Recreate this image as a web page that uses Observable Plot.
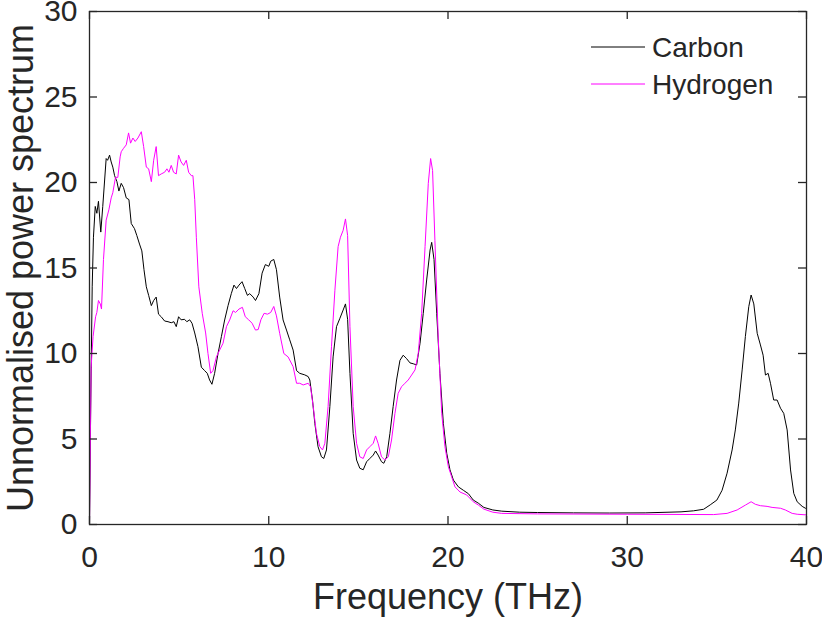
<!DOCTYPE html>
<html>
<head>
<meta charset="utf-8">
<script src="https://cdn.jsdelivr.net/npm/d3@7"></script>
<script src="https://cdn.jsdelivr.net/npm/@observablehq/plot@0.6"></script>
<style>
  html, body { margin: 0; padding: 0; background: #fff; }
  #chart { width: 822px; height: 620px; }
</style>
</head>
<body>
<div id="chart"></div>
<script>
const xTicks = [0, 10, 20, 30, 40];
const yTicks = [0, 5, 10, 15, 20, 25, 30];
const seriesNames = ["Carbon", "Hydrogen"];
const seriesColors = ["#000000", "#ff00ff"];
const xLabel = "Frequency (THz)";
const yLabel = "Unnormalised power spectrum";

const carbonFreq = [0,0.06,0.15,0.22,0.32,0.41,0.5,0.63,0.74,0.93,1.01,1.12,1.21,1.3,1.4,1.53,1.64,1.77,1.9,2.05,2.2,2.33,2.51,2.64,2.79,2.92,3.04,3.17,3.3,3.45,3.58,3.72,3.85,4.0,4.19,4.38,4.56,4.71,4.84,4.97,5.11,5.3,5.43,5.59,5.72,5.87,6.05,6.24,6.42,6.57,6.7,6.83,6.98,7.17,7.36,7.54,7.73,7.91,8.06,8.2,8.34,8.51,8.66,8.81,8.94,9.13,9.26,9.45,9.63,9.81,10.0,10.11,10.28,10.43,10.61,10.8,10.99,11.17,11.36,11.55,11.73,12.01,12.2,12.29,12.44,12.57,12.75,12.94,13.07,13.22,13.41,13.59,13.78,13.97,14.15,14.28,14.4,14.53,14.71,14.9,15.08,15.27,15.46,15.64,15.83,15.96,16.1,16.29,16.42,16.58,16.76,16.94,17.13,17.32,17.5,17.69,17.88,18.06,18.25,18.44,18.62,18.81,19.0,19.09,19.22,19.37,19.55,19.74,19.93,20.11,20.3,20.58,20.86,21.14,21.41,21.69,22.0,22.5,23.0,24,25,27,29,31,33,33.7,34.26,34.63,35.0,35.29,35.57,35.85,36.03,36.22,36.41,36.59,36.78,36.91,37.06,37.25,37.43,37.58,37.71,37.86,37.99,38.17,38.36,38.55,38.73,38.92,39.11,39.29,39.48,39.76,39.94,40];
const carbonPower = [0,6.1,13.9,16.8,18.6,18.2,18.9,17.1,18.6,21.4,21.3,21.6,21.2,20.9,20.4,20.05,19.5,19.95,19.7,19.1,19.0,17.6,17.3,16.9,16.4,16.0,14.9,13.9,13.4,12.8,13.1,13.3,12.3,12.15,11.9,11.86,11.8,11.86,11.57,12.15,11.97,12.0,11.86,11.97,11.77,11.2,10.4,9.2,9.0,8.84,8.45,8.2,8.84,10.0,11.0,11.96,12.8,13.5,14.0,13.8,14.0,14.2,13.8,13.4,13.5,13.3,13.1,13.5,14.7,15.2,15.1,15.4,15.5,14.9,13.3,11.96,11.37,10.8,10.2,9.0,8.84,8.75,8.65,8.45,7.28,5.92,4.55,3.96,3.86,4.36,6.9,9.8,11.57,12.06,12.54,12.9,12.0,8.84,5.33,3.77,3.29,3.2,3.67,3.86,4.06,4.3,4.06,3.67,3.58,3.96,5.33,6.9,8.45,9.6,9.9,9.7,9.45,9.4,9.33,10.6,12.35,14.3,16.05,16.5,15.5,12.35,8.84,5.92,4.16,3.2,2.6,2.2,2.0,1.8,1.43,1.25,1.0,0.85,0.78,0.72,0.7,0.68,0.67,0.68,0.74,0.8,0.89,1.15,1.43,2.0,3.0,4.36,5.53,7.1,9.04,11.0,12.74,13.42,12.9,11.18,10.5,9.9,8.74,8.84,8.26,7.28,7.28,6.8,6.5,5.53,3.19,1.82,1.33,1.06,0.95,0.93];

const hydrogenFreq = [0,0.09,0.2,0.34,0.41,0.5,0.6,0.67,0.78,0.93,1.08,1.21,1.3,1.45,1.58,1.71,1.77,1.9,2.05,2.18,2.29,2.42,2.55,2.7,2.89,3.02,3.17,3.3,3.45,3.58,3.72,3.85,4.0,4.19,4.32,4.43,4.56,4.69,4.84,4.97,5.11,5.25,5.4,5.53,5.68,5.77,5.87,5.96,6.1,6.29,6.48,6.61,6.76,6.89,7.08,7.26,7.45,7.64,7.82,8.01,8.15,8.34,8.53,8.69,8.88,9.07,9.26,9.41,9.56,9.74,9.93,10.11,10.28,10.43,10.61,10.84,11.08,11.36,11.55,11.73,11.92,12.2,12.33,12.48,12.66,12.85,13.0,13.13,13.31,13.5,13.69,13.87,14.0,14.15,14.28,14.4,14.53,14.71,14.9,15.08,15.27,15.46,15.64,15.83,15.96,16.1,16.29,16.48,16.67,16.85,17.04,17.22,17.41,17.6,17.78,17.97,18.16,18.34,18.53,18.72,18.9,19.03,19.14,19.27,19.46,19.65,19.83,20.02,20.2,20.39,20.67,21.04,21.41,21.69,22.0,22.5,23,25,30,34.82,35.57,36.13,36.6,36.91,37.15,37.43,37.8,38.08,38.55,38.82,39.2,39.48,40];
const hydrogenPower = [0,9.2,11.0,12.15,12.4,13.1,12.9,12.6,15.5,17.8,18.4,19.1,19.4,20.3,20.3,21.5,21.8,22.0,22.2,22.9,22.3,22.6,22.4,22.6,22.97,22.1,20.9,20.8,20.05,21.3,22.1,20.4,20.5,20.6,20.8,20.6,21.0,20.6,20.5,21.6,21.2,21.0,21.3,20.6,20.4,20.4,19.0,16.8,13.9,12.35,11.2,10.0,8.84,9.0,9.8,10.2,10.6,11.57,11.96,12.5,12.4,12.6,12.7,12.15,11.97,11.77,11.37,11.4,11.97,12.35,12.3,12.4,12.75,12.2,11.18,10.0,9.8,9.23,8.26,8.26,8.16,8.26,8.06,6.9,5.33,4.55,4.36,4.75,6.9,10.4,13.7,16.25,16.8,17.2,17.87,16.9,11.57,6.9,4.75,3.96,3.86,4.36,4.55,4.75,5.18,4.75,3.96,3.77,3.96,4.94,6.5,7.67,8.06,8.26,8.45,8.74,9.04,10.0,12.35,16.25,19.95,21.4,20.7,16.6,10.8,6.5,4.55,3.38,2.8,2.2,1.9,1.73,1.33,1.14,0.9,0.72,0.65,0.62,0.6,0.58,0.65,0.85,1.14,1.33,1.18,1.1,1.06,1.0,0.95,0.85,0.65,0.6,0.56];

const carbon = carbonFreq.map((f, i) => ({f, v: carbonPower[i]}));
const hydrogen = hydrogenFreq.map((f, i) => ({f, v: hydrogenPower[i]}));

const W = 822, H = 620;
const mL = 89, mR = 16, mT = 11, mB = 96;
const plotW = W - mL - mR, plotH = H - mT - mB;
const tickLen = 8;
const ink = "#262626";
const font = "'Liberation Sans', Arial, Helvetica, sans-serif";

const chart = Plot.plot({
  width: W, height: H,
  marginLeft: mL, marginRight: mR, marginTop: mT, marginBottom: mB,
  style: {fontFamily: font, color: ink, background: "#fff", overflow: "visible"},
  x: {domain: [0, 40], ticks: xTicks},
  y: {domain: [0, 30], ticks: yTicks},
  marks: [
    Plot.line(carbon, {x: "f", y: "v", stroke: seriesColors[0], strokeWidth: 1}),
    Plot.line(hydrogen, {x: "f", y: "v", stroke: seriesColors[1], strokeWidth: 1}),
    Plot.tickX(xTicks, {x: d => d, insetTop: plotH - tickLen, stroke: ink, strokeWidth: 1.3}),
    Plot.tickX(xTicks, {x: d => d, insetBottom: plotH - tickLen, stroke: ink, strokeWidth: 1.3}),
    Plot.tickY(yTicks, {y: d => d, insetRight: plotW - tickLen, stroke: ink, strokeWidth: 1.3}),
    Plot.tickY(yTicks, {y: d => d, insetLeft: plotW - tickLen, stroke: ink, strokeWidth: 1.3}),
    Plot.frame({stroke: ink, strokeWidth: 1.3}),
    Plot.axisX({ticks: xTicks, tickSize: 0, tickPadding: 21, fontSize: 30, label: null, fill: ink}),
    Plot.axisY({ticks: yTicks, tickSize: 0, tickPadding: 12, fontSize: 30, label: null, fill: ink}),
    Plot.text([xLabel], {frameAnchor: "bottom", dy: 73, text: d => d, fontSize: 36, fill: ink, textAnchor: "middle", lineAnchor: "middle"}),
    Plot.text([yLabel], {frameAnchor: "left", dx: -68, rotate: -90, text: d => d, fontSize: 36, fill: ink, textAnchor: "middle", lineAnchor: "middle"})
  ]
});

document.getElementById("chart").appendChild(chart);

// Legend (top-right, inside the plot box)
const svg = d3.select(chart);
const leg = svg.append("g")
  .attr("font-family", font).attr("font-size", 28).attr("fill", ink)
  .attr("text-anchor", "start");
const legendY = [47, 84];
seriesNames.forEach((name, i) => {
  leg.append("line")
    .attr("x1", 591).attr("x2", 645)
    .attr("y1", legendY[i]).attr("y2", legendY[i])
    .attr("stroke", seriesColors[i]).attr("stroke-width", 1);
  leg.append("text")
    .attr("x", 652).attr("y", legendY[i])
    .attr("dy", "0.35em")
    .attr("text-anchor", "start")
    .text(name);
});
</script>
</body>
</html>
